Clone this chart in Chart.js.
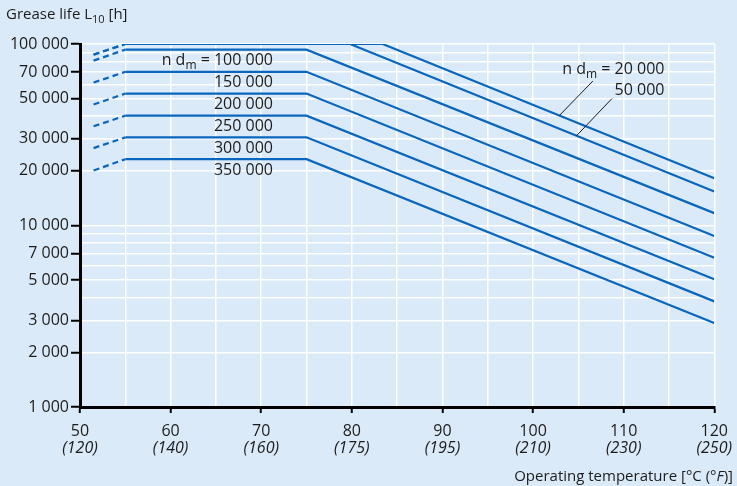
<!DOCTYPE html>
<html>
<head>
<meta charset="utf-8">
<script src="https://cdn.jsdelivr.net/npm/chart.js@4/dist/chart.umd.min.js"></script>
<style>
   html, body { margin: 0; padding: 0; background: #dbeaf8; }
   #wrap { width: 737px; height: 486px; }
</style>
</head>
<body>
<div id="wrap"><canvas id="chart1"></canvas></div>
<script>
/*=================================>> DATA  <<=================================*/

// n dm of every curve, top to bottom
const ndmLabels = ['20 000', '50 000', '100 000', '150 000', '200 000', '250 000', '300 000', '350 000'];

// operating temperature [°C] : start of dashed part, start of flat part, knee, end
const startTemp = 51.5;
const flatTemp = 55;
const kneeTemps = [83.4, 79.8, 75, 75, 75, 75, 75, 75];
const endTemp = 120;

// grease life L10 [h] at those temperatures
const startLife = [87400, 87400, 81000, 61300, 46400, 35200, 26700, 20100];
const flatLife = [100000, 100000, 93100, 70300, 53300, 40300, 30600, 23200];
const endLife = [18200, 15400, 11700, 8750, 6650, 5050, 3820, 2900];

// axes
const tempMin = 50;
const tempMax = 120;
const fahrenheitLabels = ['(120)', '(140)', '(160)', '(175)', '(195)', '(210)', '(230)', '(250)'];
const lifeTicks = [1000, 2000, 3000, 4000, 5000, 6000, 7000, 8000, 9000,
   10000, 20000, 30000, 40000, 50000, 60000, 70000, 80000, 90000, 100000];
const lifeLabelled = [1000, 2000, 3000, 5000, 7000, 10000, 20000, 30000, 50000, 70000, 100000];

// curve label anchors
const leftLabelTemp = 71.3;
const rightLabelTemp = 114.5;
const rightLabelLife = [72500, 55600];
const leaderFromTemp = [106.6, 108.7];
const leaderFromLife = [62500, 50000];
const leaderToTemp = [102.9, 104.8];

/*=================================>> STYLE  <<=================================*/

const FONT = "'Open Sans', sans-serif";
const INK = '#1c1c1c';
const LINE_BLUE = '#0a66bd';

function spaced(v) {
   return String(Math.round(v)).replace(/\B(?=(\d{3})+(?!\d))/g, ' ');
}

function isLabelled(v) {
   return lifeLabelled.some(l => Math.abs(l - v) < 1e-6 * l);
}

function lifeAt(i, t) {
   if (t <= kneeTemps[i]) return flatLife[i];
   const f = (t - kneeTemps[i]) / (endTemp - kneeTemps[i]);
   return Math.pow(10, Math.log10(flatLife[i]) + f * (Math.log10(endLife[i]) - Math.log10(flatLife[i])));
}

function runFont(style, size) {
   if (style === 'sub') return `${Math.round(size * 0.72)}px ${FONT}`;
   if (style === 'italic') return `italic ${size}px ${FONT}`;
   return `${size}px ${FONT}`;
}

function drawRuns(ctx, runs, x, y, size, align) {
   ctx.save();
   ctx.fillStyle = INK;
   ctx.textBaseline = 'middle';
   ctx.textAlign = 'left';
   let total = 0;
   runs.forEach(([t, s]) => { ctx.font = runFont(s, size); total += ctx.measureText(t).width; });
   let cx = align === 'right' ? x - total : x;
   runs.forEach(([t, s]) => {
      ctx.font = runFont(s, size);
      ctx.fillText(t, cx, s === 'sub' ? y + size * 0.32 : y);
      cx += ctx.measureText(t).width;
   });
   ctx.restore();
   return cx;
}

/*=================================>> TEXT PLUGIN  <<=================================*/

const textPlugin = {
   id: 'texts',
   afterDraw(chart) {
      const ctx = chart.ctx;
      const xs = chart.scales.x;
      const ys = chart.scales.y;

      // axis titles
      drawRuns(ctx, [['Grease life L', ''], ['10', 'sub'], [' [h]', '']], 6, 15, 15, 'left');
      drawRuns(ctx, [['Operating temperature [°C (', ''], ['°F', 'italic'], [')]', '']], 733, 477, 15, 'right');

      // left curve labels
      for (let i = 2; i < ndmLabels.length; i++) {
         const runs = i === 2
            ? [['n d', ''], ['m', 'sub'], [' = ' + ndmLabels[i], '']]
            : [[ndmLabels[i], '']];
         drawRuns(ctx, runs, xs.getPixelForValue(leftLabelTemp), ys.getPixelForValue(flatLife[i]) + 11, 16, 'right');
      }

      // right curve labels
      drawRuns(ctx, [['n d', ''], ['m', 'sub'], [' = ' + ndmLabels[0], '']],
         xs.getPixelForValue(rightLabelTemp), ys.getPixelForValue(rightLabelLife[0]), 16, 'right');
      drawRuns(ctx, [[ndmLabels[1], '']],
         xs.getPixelForValue(rightLabelTemp), ys.getPixelForValue(rightLabelLife[1]), 16, 'right');

      // leader lines
      ctx.save();
      ctx.strokeStyle = INK;
      ctx.lineWidth = 1;
      for (let i = 0; i < 2; i++) {
         ctx.beginPath();
         ctx.moveTo(xs.getPixelForValue(leaderFromTemp[i]), ys.getPixelForValue(leaderFromLife[i]));
         ctx.lineTo(xs.getPixelForValue(leaderToTemp[i]), ys.getPixelForValue(lifeAt(i, leaderToTemp[i])));
         ctx.stroke();
      }
      ctx.restore();
   }
};

/*=================================>> CHART  <<=================================*/

(function main() {
   const canva = document.querySelector('#chart1');

   const datasets = ndmLabels.map((lab, i) => ({
      label: lab,
      data: [
         { x: startTemp, y: startLife[i] },
         { x: flatTemp, y: flatLife[i] },
         { x: kneeTemps[i], y: flatLife[i] },
         { x: endTemp, y: endLife[i] },
      ],
      borderColor: LINE_BLUE,
      borderWidth: 2.2,
      pointRadius: 0,
      tension: 0,
      segment: {
         borderDash: ctx => ctx.p0DataIndex === 0 ? [6, 4] : undefined,
      },
   }));

   new Chart(canva, {
      type: 'line',
      data: { datasets },
      plugins: [textPlugin],
      options: {
         responsive: true,
         maintainAspectRatio: false,
         animation: false,
         events: [],
         layout: { padding: { top: 44, right: 22, bottom: 29, left: 0 } },
         plugins: {
            legend: { display: false },
            tooltip: { enabled: false },
         },
         scales: {
            x: {
               type: 'linear',
               min: tempMin,
               max: tempMax,
               afterFit(scale) { scale.height = 30; },
               border: { display: true, color: '#000', width: 3 },
               grid: {
                  color: '#ffffff',
                  lineWidth: 1.5,
                  drawTicks: true,
                  tickLength: 6,
                  tickWidth: 2,
                  tickColor: ctx => (ctx.tick && ctx.tick.value % 10 === 0) ? '#000' : 'rgba(0,0,0,0)',
               },
               ticks: {
                  stepSize: 5,
                  autoSkip: false,
                  maxRotation: 0,
                  padding: 9,
                  color: INK,
                  font: { family: FONT, size: 16 },
                  callback: v => v % 10 === 0 ? String(v) : '',
               },
            },
            xF: {
               type: 'linear',
               position: 'bottom',
               min: tempMin,
               max: tempMax,
               afterFit(scale) { scale.height = 20; },
               border: { display: false },
               grid: { display: false, drawTicks: false },
               ticks: {
                  stepSize: 10,
                  autoSkip: false,
                  maxRotation: 0,
                  padding: 2,
                  color: INK,
                  font: { family: FONT, size: 16, style: 'italic' },
                  callback: v => fahrenheitLabels[Math.round((v - tempMin) / 10)] || '',
               },
            },
            y: {
               type: 'logarithmic',
               min: lifeMin(),
               max: lifeMax(),
               afterFit(scale) { scale.width = 80; },
               afterBuildTicks(scale) { scale.ticks = lifeTicks.map(v => ({ value: v })); },
               border: { display: true, color: '#000', width: 3 },
               grid: {
                  color: '#ffffff',
                  lineWidth: 1.5,
                  drawTicks: true,
                  tickLength: 9,
                  tickWidth: 2,
                  tickColor: ctx => (ctx.tick && isLabelled(ctx.tick.value)) ? '#000' : 'rgba(0,0,0,0)',
               },
               ticks: {
                  autoSkip: false,
                  padding: 2,
                  color: INK,
                  font: { family: FONT, size: 16 },
                  callback: v => isLabelled(v) ? spaced(v) : '',
               },
            },
         },
      },
   });
})();

function lifeMin() { return lifeTicks[0]; }
function lifeMax() { return lifeTicks[lifeTicks.length - 1]; }
</script>
</body>
</html>
